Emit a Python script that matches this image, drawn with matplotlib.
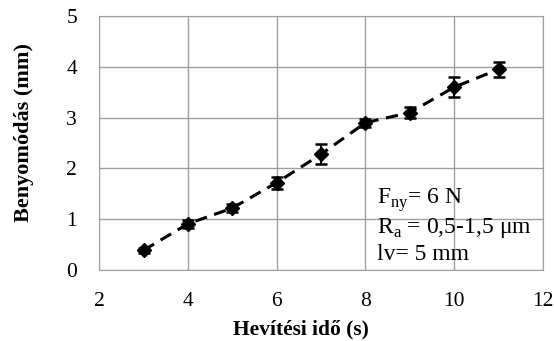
import matplotlib
matplotlib.use('Agg')
import matplotlib.pyplot as plt

ido = [3, 4, 5, 6, 7, 8, 9, 10, 11]
benyomodas = [0.39, 0.91, 1.22, 1.72, 2.28, 2.90, 3.10, 3.60, 3.95]
hiba = [0.05, 0.08, 0.08, 0.12, 0.20, 0.08, 0.10, 0.20, 0.15]

plt.rcParams['font.family'] = ['Liberation Serif', 'DejaVu Serif']
plt.rcParams['mathtext.fontset'] = 'custom'
plt.rcParams['mathtext.rm'] = 'Liberation Serif'

fig, ax = plt.subplots(figsize=(5.54, 3.41), dpi=100)
fig.subplots_adjust(left=0.179, right=0.980, top=0.953, bottom=0.208)

ax.errorbar(ido, benyomodas, yerr=hiba, fmt='D', color='black', ms=7,
            capsize=4, elinewidth=1.5, capthick=1.8, zorder=3)
ax.plot(ido, benyomodas, color='black', lw=2.2, dashes=(4, 2.5), zorder=2)

ax.set_xlim(2, 12)
ax.set_ylim(0, 5)
ax.set_xticks(range(2, 13, 2))
ax.set_yticks(range(0, 6))
ax.grid(True, color='#a0a0a0', lw=1)
ax.set_axisbelow(True)
for s in ax.spines.values():
    s.set_color('#a0a0a0')
ax.tick_params(length=0, labelsize=15.5, pad=16)

ax.set_xlabel('Hevítési idő (s)', fontsize=15.5, fontweight='bold', va='center')
ax.set_ylabel('Benyomódás (mm)', fontsize=16, fontweight='bold')
ax.xaxis.set_label_coords(0.455, -0.235)
ax.yaxis.set_label_coords(-0.146, 0.54)

ax.text(8.26, 1.38, r'F$_{\mathrm{ny}}$= 6 N', fontsize=17, va='center')
ax.text(8.26, 0.83, r'R$_{\mathrm{a}}$ = 0,5-1,5 μm', fontsize=17, va='center')
ax.text(8.26, 0.30, 'lv= 5 mm', fontsize=17, va='center')

fig.savefig('out.png', dpi=100)
